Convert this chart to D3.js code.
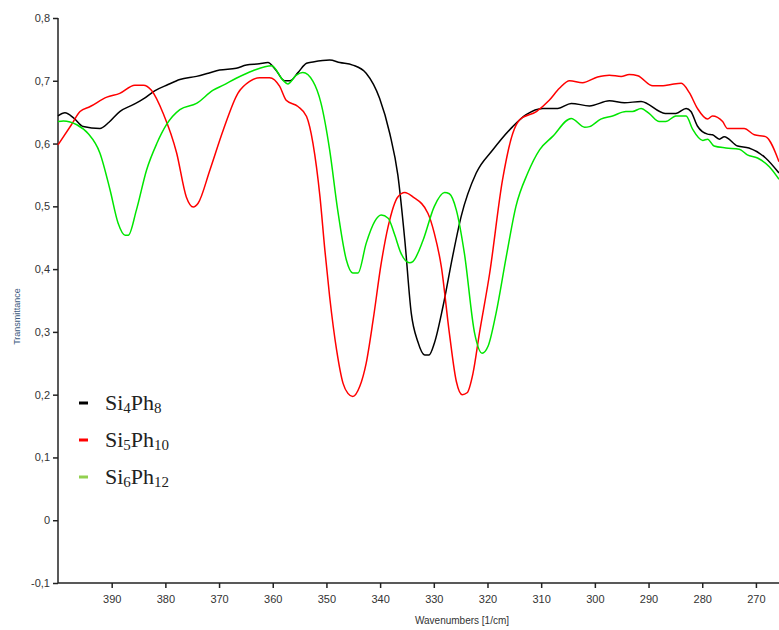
<!DOCTYPE html>
<html lang="en">
<head>
    <meta charset="utf-8">
    <title> Spectra </title>
    <script src="https://d3js.org/d3.v7.min.js"></script>
    <style>
        body { margin: 0; background: white; }
    </style>
</head>
<body>
    <div id="chart1"></div>
    <script>
        var si4ph8 = [[400,0.644],[398.7,0.649],[397,0.640],[395.3,0.627],[392.2,0.624],[390.5,0.634],[388.5,0.651],[386,0.662],[384.1,0.671],[382,0.684],[379.5,0.694],[377.3,0.702],[374.2,0.707],[372,0.712],[369.9,0.717],[366.8,0.720],[364.9,0.725],[362.5,0.727],[360.9,0.729],[359.5,0.718],[357.8,0.700],[356.8,0.700],[355.3,0.713],[353.7,0.728],[352.5,0.730],[349.4,0.733],[347.5,0.729],[345.1,0.725],[342.6,0.712],[340.1,0.672],[338.2,0.616],[336.7,0.550],[335.4,0.446],[334.2,0.330],[333.0,0.285],[331.7,0.263],[330.9,0.263],[329.9,0.282],[328.3,0.340],[326.5,0.420],[324.9,0.484],[322.1,0.553],[319.0,0.590],[315.3,0.627],[312.8,0.646],[309.7,0.656],[306.9,0.656],[304.4,0.664],[301.0,0.660],[297.3,0.668],[294.5,0.665],[291.4,0.667],[286.9,0.648],[284.9,0.648],[283.0,0.656],[282.1,0.651],[280.9,0.628],[279.0,0.615],[278.1,0.614],[276.8,0.607],[275.9,0.611],[273.4,0.596],[271.3,0.593],[268.2,0.577],[265.7,0.553]];
        var si5ph10 = [[400,0.598],[397.5,0.630],[395.9,0.651],[394,0.659],[390.9,0.674],[388.5,0.680],[385.7,0.693],[384.1,0.693],[382.6,0.685],[380.4,0.648],[377.9,0.585],[376.1,0.515],[374.8,0.499],[373.9,0.505],[371.7,0.558],[369.2,0.622],[366.5,0.680],[364.3,0.699],[362.4,0.705],[360.6,0.705],[358.7,0.691],[357.5,0.669],[355.3,0.659],[353.7,0.643],[352.5,0.600],[351.2,0.515],[350.3,0.431],[349.4,0.356],[348.1,0.271],[346.9,0.218],[346.0,0.202],[345.1,0.197],[343.8,0.213],[342.6,0.250],[341.3,0.319],[339.8,0.409],[338.5,0.468],[336.7,0.515],[335.4,0.522],[333.9,0.515],[331.1,0.489],[329.9,0.457],[328.6,0.404],[327.1,0.298],[325.8,0.221],[324.7,0.200],[323.8,0.203],[322.7,0.234],[321.5,0.298],[319.6,0.393],[317.2,0.542],[315.3,0.616],[314.0,0.638],[310.9,0.651],[308.5,0.669],[306.6,0.688],[304.7,0.700],[302.3,0.697],[299.5,0.706],[297.3,0.709],[295.1,0.707],[293.6,0.710],[292.0,0.708],[289.2,0.692],[287.3,0.692],[285.8,0.694],[283.9,0.696],[282.4,0.681],[280.9,0.656],[279.0,0.639],[278.1,0.644],[276.2,0.635],[275.3,0.624],[272.2,0.624],[270.3,0.614],[268.2,0.611],[265.7,0.571]];
        var si6ph12 = [[400,0.635],[399,0.636],[396.5,0.630],[394.4,0.616],[392.2,0.585],[390.3,0.526],[388.8,0.473],[387.5,0.454],[386.9,0.454],[385.4,0.494],[383.5,0.558],[381.6,0.600],[379.8,0.630],[377.3,0.654],[374.2,0.664],[371.1,0.685],[369.2,0.693],[366.8,0.704],[363.7,0.716],[360.2,0.724],[358.1,0.701],[357.2,0.695],[355.6,0.709],[354.4,0.713],[352.5,0.699],[351.0,0.664],[349.4,0.590],[347.9,0.494],[346.3,0.415],[345.1,0.394],[344.1,0.394],[342.6,0.441],[341.0,0.476],[339.8,0.486],[338.5,0.481],[337.3,0.455],[336.1,0.425],[334.5,0.410],[333.9,0.412],[332.0,0.446],[329.9,0.500],[328.0,0.522],[327.1,0.520],[325.8,0.494],[324.3,0.425],[322.4,0.298],[321.0,0.266],[319.9,0.277],[318.4,0.330],[316.5,0.420],[314.7,0.500],[312.5,0.553],[310.3,0.590],[307.9,0.611],[304.4,0.640],[301.9,0.626],[301.0,0.627],[298.9,0.639],[296.7,0.644],[294.2,0.651],[293.0,0.651],[291.4,0.656],[289.9,0.648],[288.0,0.635],[286.8,0.635],[284.9,0.644],[283.0,0.644],[281.8,0.623],[279.9,0.605],[279.0,0.607],[277.8,0.596],[275.6,0.593],[273.1,0.591],[271.6,0.582],[269.7,0.577],[267.5,0.563],[265.7,0.543]];

        var xTicks = [390, 380, 370, 360, 350, 340, 330, 320, 310, 300, 290, 280, 270];
        var yTicks = [-0.1, 0, 0.1, 0.2, 0.3, 0.4, 0.5, 0.6, 0.7, 0.8];
        var seriesNames = [["Si", "4", "Ph", "8"], ["Si", "5", "Ph", "10"], ["Si", "6", "Ph", "12"]];

        var lineColors = ["#000000", "#ff0000", "#00e600"];
        var legendColors = ["#000000", "#ff0000", "#92d050"];

        var margin = { top: 18, right: 0, bottom: 47, left: 58 },
            width = 779 - margin.left - margin.right,
            height = 630 - margin.top - margin.bottom;

        var svg = d3.select("#chart1")
            .append("svg")
            .attr("width", 779)
            .attr("height", 630)
            .append("g")
            .attr("transform", "translate(" + margin.left + "," + margin.top + ")");

        var x = d3.scaleLinear().domain([400, 265.7]).range([0, width]);
        var y = d3.scaleLinear().domain([-0.1, 0.8]).range([height, 0]);

        // axes, comma decimals and a plain hyphen for the minus
        var fmt = function(d) {
            if (Math.abs(d) < 1e-9) return "0";
            return (d < 0 ? "-" : "") + Math.abs(d).toFixed(1).replace(".", ",");
        };

        var yAxis = svg.append("g")
            .call(d3.axisLeft(y).tickValues(yTicks).tickFormat(fmt).tickSize(5).tickPadding(3));
        var xAxis = svg.append("g")
            .attr("transform", "translate(0," + height + ")")
            .call(d3.axisBottom(x).tickValues(xTicks).tickSize(5).tickPadding(7));

        [xAxis, yAxis].forEach(function(a) {
            a.select(".domain").attr("stroke", "#222").attr("stroke-width", 1.5);
            a.selectAll(".tick line").attr("stroke", "#222").attr("stroke-width", 1.5);
            a.selectAll("text")
                .style("font-family", "Liberation Sans, Arial, sans-serif")
                .style("font-size", "11px")
                .attr("fill", "#333");
        });
        xAxis.select(".domain").attr("d", "M0,0H" + width);
        yAxis.select(".domain").attr("d", "M0," + height + "V0");

        svg.append("text")
            .attr("transform", "translate(-38," + (height / 2 + 16) + ") rotate(-90)")
            .attr("text-anchor", "middle")
            .style("font-family", "Liberation Sans, Arial, sans-serif")
            .style("font-size", "9px")
            .attr("fill", "#3d5a80")
            .text("Transmittance");

        svg.append("text")
            .attr("x", 404)
            .attr("y", height + 41)
            .attr("text-anchor", "middle")
            .style("font-family", "Liberation Sans, Arial, sans-serif")
            .style("font-size", "10px")
            .attr("fill", "#333")
            .text("Wavenumbers [1/cm]");

        // lines
        var line = d3.line()
            .x(function(d) { return x(d[0]); })
            .y(function(d) { return y(d[1]); })
            .curve(d3.curveMonotoneX);

        [si4ph8, si5ph10, si6ph12].forEach(function(s, i) {
            svg.append("path")
                .datum(s)
                .attr("fill", "none")
                .attr("stroke", lineColors[i])
                .attr("stroke-width", 1.5)
                .attr("d", line);
        });

        // legend
        var legend = svg.append("g").attr("transform", "translate(21,385)");
        seriesNames.forEach(function(n, i) {
            var g = legend.append("g").attr("transform", "translate(0," + (i * 37) + ")");
            g.append("line")
                .attr("x1", 0).attr("x2", 9)
                .attr("y1", 0).attr("y2", 0)
                .attr("stroke", legendColors[i])
                .attr("stroke-width", 3);
            var t = g.append("text")
                .attr("x", 26)
                .attr("y", 7)
                .style("font-family", "Liberation Serif, Times New Roman, serif")
                .style("font-size", "22px")
                .attr("fill", "#222");
            t.append("tspan").text(n[0]);
            t.append("tspan").attr("dy", 3).style("font-size", "15px").text(n[1]);
            t.append("tspan").attr("dy", -3).text(n[2]);
            t.append("tspan").attr("dy", 3).style("font-size", "15px").text(n[3]);
        });
    </script>
</body>
</html>
